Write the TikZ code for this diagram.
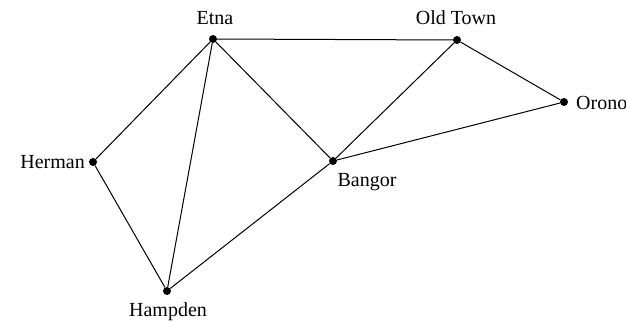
\documentclass[tikz,border=0pt]{standalone}
\usepackage{fontspec}
\setmainfont{Liberation Serif}
\begin{document}
\begin{tikzpicture}[x=1pt,y=-1pt,
  town/.style={circle,fill=black,inner sep=0pt,minimum size=8pt},
  lbl/.style={font=\fontsize{20}{24}\selectfont,inner sep=0pt},
  road/.style={line width=1pt}]
\useasboundingbox[fill=white] (0,0) rectangle (626,321);
\node[town] (etna) at (213,39) {};
\node[town] (oldtown) at (457,40) {};
\node[town] (orono) at (564,102) {};
\node[town] (herman) at (93,162) {};
\node[town] (bangor) at (333,161) {};
\node[town] (hampden) at (167,291) {};
\node[lbl] (letna) at (215,18) {Etna};
\node[lbl] (loldtown) at (456,18) {Old Town};
\node[lbl,anchor=west] (lorono) at (576,103) {Orono};
\node[lbl,anchor=east] (lherman) at (85,162) {Herman};
\node[lbl] (lbangor) at (367,182) {Bangor};
\node[lbl] (lhampden) at (168,312) {Hampden};
\draw[road] (etna) -- (oldtown);
\draw[road] (etna) -- (herman);
\draw[road] (etna) -- (hampden);
\draw[road] (etna) -- (bangor);
\draw[road] (oldtown) -- (bangor);
\draw[road] (oldtown) -- (orono);
\draw[road] (bangor) -- (orono);
\draw[road] (herman) -- (hampden);
\draw[road] (hampden) -- (bangor);
\end{tikzpicture}
\end{document}
